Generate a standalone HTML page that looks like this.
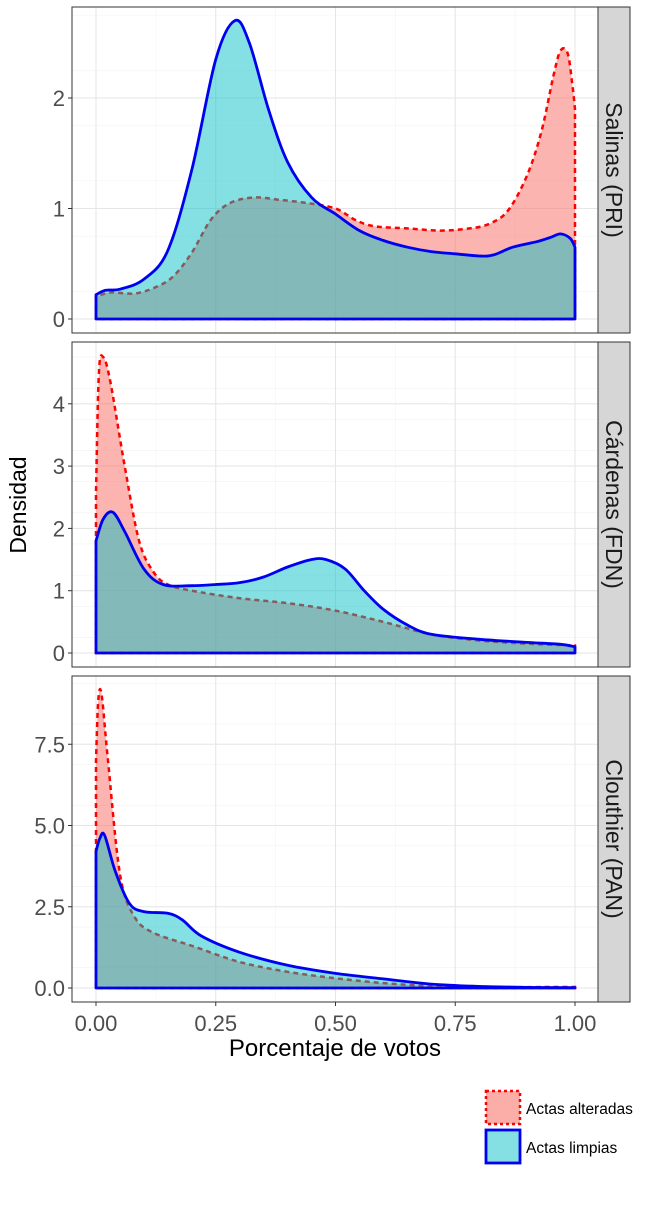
<!DOCTYPE html>
<html><head><meta charset="utf-8"><style>
body{margin:0;background:#fff;}
svg{display:block;font-family:"Liberation Sans",sans-serif;}
</style></head><body>
<svg id="s" width="650" height="1208" xmlns="http://www.w3.org/2000/svg"></svg>
<script>
const S=document.getElementById('s');
let h='';
const X=x=>96+479*x;
const panels=[
 {top:7,bot:333,y0:319,u:110.5,ticks:[0,1,2],lab:['0','1','2'],minor:0.5,name:'Salinas (PRI)',
  blue:[[0,0.22],[0.02,0.26],[0.05,0.27],[0.1,0.36],[0.15,0.62],[0.2,1.35],[0.25,2.35],[0.29,2.7],[0.32,2.5],[0.36,1.9],[0.4,1.42],[0.45,1.1],[0.5,0.95],[0.55,0.8],[0.6,0.71],[0.65,0.65],[0.7,0.61],[0.75,0.59],[0.8,0.57],[0.83,0.58],[0.87,0.65],[0.92,0.7],[0.95,0.74],[0.97,0.77],[0.99,0.73],[1,0.65]],
  red:[[0,0.2],[0.03,0.24],[0.08,0.23],[0.12,0.28],[0.16,0.38],[0.2,0.6],[0.24,0.9],[0.28,1.05],[0.33,1.1],[0.38,1.08],[0.44,1.05],[0.5,1.0],[0.54,0.9],[0.58,0.84],[0.65,0.82],[0.72,0.8],[0.78,0.82],[0.82,0.86],[0.86,0.98],[0.9,1.3],[0.93,1.7],[0.955,2.2],[0.97,2.43],[0.985,2.4],[0.995,2.1],[1,1.9]],redEnd:0.7},
 {top:342,bot:667,y0:653,u:62.3,ticks:[0,1,2,3,4],lab:['0','1','2','3','4'],minor:0.5,name:'Cárdenas (FDN)',
  blue:[[0,1.8],[0.015,2.15],[0.035,2.26],[0.06,1.95],[0.1,1.35],[0.14,1.1],[0.2,1.08],[0.25,1.1],[0.3,1.13],[0.35,1.22],[0.4,1.38],[0.45,1.5],[0.48,1.5],[0.52,1.35],[0.56,1.0],[0.6,0.7],[0.65,0.45],[0.7,0.3],[0.8,0.22],[0.9,0.17],[0.97,0.14],[1,0.1]],
  red:[[0,2.6],[0.006,4.5],[0.015,4.75],[0.03,4.35],[0.06,3.0],[0.09,1.8],[0.12,1.3],[0.15,1.1],[0.2,1.0],[0.3,0.88],[0.4,0.8],[0.5,0.68],[0.6,0.5],[0.7,0.3],[0.8,0.2],[0.9,0.15],[1,0.12]]},
 {top:676,bot:1002,y0:988,u:32.5,ticks:[0,2.5,5,7.5],lab:['0.0','2.5','5.0','7.5'],minor:1.25,name:'Clouthier (PAN)',
  blue:[[0,4.2],[0.008,4.6],[0.018,4.7],[0.04,3.6],[0.07,2.6],[0.1,2.35],[0.15,2.3],[0.18,2.1],[0.22,1.6],[0.3,1.1],[0.4,0.7],[0.5,0.45],[0.6,0.28],[0.7,0.12],[0.8,0.05],[0.9,0.02],[1,0.01]],
  red:[[0,7],[0.005,8.9],[0.012,9.0],[0.025,7.0],[0.05,3.5],[0.08,2.2],[0.12,1.7],[0.2,1.3],[0.3,0.8],[0.4,0.5],[0.5,0.3],[0.6,0.15],[0.7,0.06],[0.8,0.03],[1,0.03]]}
];
function smooth(pts){let d='';for(let i=0;i<pts.length-1;i++){const p0=pts[Math.max(0,i-1)],p1=pts[i],p2=pts[i+1],p3=pts[Math.min(pts.length-1,i+2)];
 const c1=[p1[0]+(p2[0]-p0[0])/6,p1[1]+(p2[1]-p0[1])/6],c2=[p2[0]-(p3[0]-p1[0])/6,p2[1]-(p3[1]-p1[1])/6];
 d+=` C${c1[0].toFixed(1)},${c1[1].toFixed(1)} ${c2[0].toFixed(1)},${c2[1].toFixed(1)} ${p2[0].toFixed(1)},${p2[1].toFixed(1)}`;}return d;}
function area(p,data,endV){const Y=v=>p.y0-p.u*v;const pts=data.map(d=>[X(d[0]),Y(d[1])]);
 let d=`M${X(0)},${p.y0} L${pts[0][0]},${pts[0][1]}`+smooth(pts);
 if(endV!==undefined)d+=` L${X(1)},${Y(endV)}`;
 d+=` L${X(1)},${p.y0} Z`;return d;}
panels.forEach(p=>{
 h+=`<rect x="72" y="${p.top}" width="526" height="${p.bot-p.top}" fill="#fff"/>`;
 const maxV=(p.y0-p.top)/p.u;
 for(let v=p.minor/2;v<maxV;v+=p.minor){h+=`<line x1="72" x2="598" y1="${p.y0-p.u*v}" y2="${p.y0-p.u*v}" stroke="#f2f2f2" stroke-width="0.6"/>`;}
 [0.125,0.375,0.625,0.875].forEach(x=>h+=`<line x1="${X(x)}" x2="${X(x)}" y1="${p.top}" y2="${p.bot}" stroke="#f2f2f2" stroke-width="0.6"/>`);
 p.ticks.forEach(v=>h+=`<line x1="72" x2="598" y1="${p.y0-p.u*v}" y2="${p.y0-p.u*v}" stroke="#e6e6e6" stroke-width="1.1"/>`);
 [0,0.25,0.5,0.75,1].forEach(x=>h+=`<line x1="${X(x)}" x2="${X(x)}" y1="${p.top}" y2="${p.bot}" stroke="#e6e6e6" stroke-width="1.1"/>`);
 h+=`<path d="${area(p,p.red,p.redEnd)}" fill="#F8766D" fill-opacity="0.55" stroke="#f00" stroke-width="2.5" stroke-dasharray="5,4"/>`;
 h+=`<path d="${area(p,p.blue)}" fill="#00BFC4" fill-opacity="0.48" stroke="#0000f0" stroke-width="2.8" stroke-linejoin="round"/>`;
 h+=`<rect x="72" y="${p.top}" width="526" height="${p.bot-p.top}" fill="none" stroke="#333" stroke-width="1"/>`;
 h+=`<rect x="598" y="${p.top}" width="32" height="${p.bot-p.top}" fill="#d6d6d6" stroke="#333" stroke-width="1"/>`;
 const cy=(p.top+p.bot)/2;
 h+=`<text x="614" y="${cy}" transform="rotate(90 614 ${cy})" text-anchor="middle" dominant-baseline="central" font-size="23" fill="#1a1a1a">${p.name}</text>`;
 p.ticks.forEach((v,i)=>{const y=p.y0-p.u*v;h+=`<line x1="68" x2="72" y1="${y}" y2="${y}" stroke="#333"/><text x="65" y="${y+8}" text-anchor="end" font-size="22" fill="#4d4d4d">${p.lab[i]}</text>`;});
});
[0,0.25,0.5,0.75,1].forEach((x,i)=>{h+=`<line x1="${X(x)}" x2="${X(x)}" y1="1002" y2="1006" stroke="#333"/><text x="${X(x)}" y="1031" text-anchor="middle" font-size="22" fill="#4d4d4d">${['0.00','0.25','0.50','0.75','1.00'][i]}</text>`;});
h+=`<text x="335" y="1056" text-anchor="middle" font-size="24" fill="#000">Porcentaje de votos</text>`;
h+=`<text x="26" y="505" transform="rotate(-90 26 505)" text-anchor="middle" font-size="23" fill="#000">Densidad</text>`;
h+=`<rect x="486" y="1091" width="34" height="33" fill="#F8766D" fill-opacity="0.6" stroke="#f00" stroke-width="2.5" stroke-dasharray="3,3"/>`;
h+=`<rect x="486" y="1130" width="34" height="33" fill="#00BFC4" fill-opacity="0.48" stroke="#0000f0" stroke-width="2.8"/>`;
h+=`<text x="526" y="1114" font-size="15.5" fill="#000">Actas alteradas</text>`;
h+=`<text x="526" y="1153" font-size="15.5" fill="#000">Actas limpias</text>`;
S.innerHTML=h;
</script>
</body></html>
